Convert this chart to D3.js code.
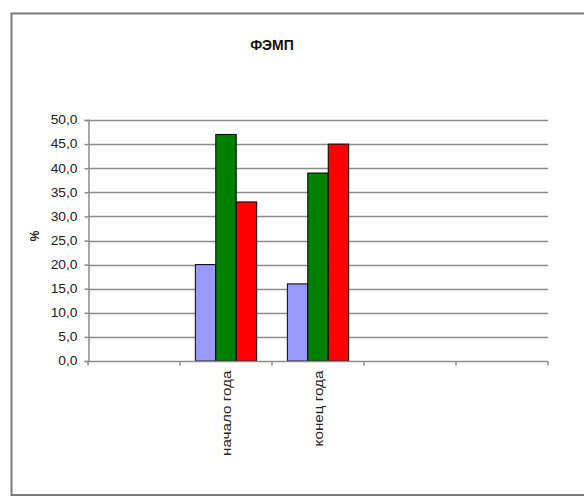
<!DOCTYPE html>
<html><head><meta charset="utf-8">
<script src="https://cdn.jsdelivr.net/npm/d3@7"></script>
<style>body{margin:0;background:#fff}svg{display:block}text{font-family:"Liberation Sans",Arial,sans-serif}</style>
</head><body><svg id="c" width="584" height="496"></svg>
<script>
const categories = ["", "начало года", "конец года", "", ""];
const seriesNames = ["s1", "s2", "s3"];
const series1 = [null, 20, 16, null, null];
const series2 = [null, 47, 39, null, null];
const series3 = [null, 33, 45, null, null];
const colors = ["#9999FF", "#008000", "#FF0000"];
const yTicks = [0, 5, 10, 15, 20, 25, 30, 35, 40, 45, 50];
const title = "ФЭМП";
const yLabel = "%";

const svg = d3.select("#c");
svg.append("rect").attr("x", 11.5).attr("y", 13.5).attr("width", 600).attr("height", 481.5)
  .attr("fill", "#fff").attr("stroke", "#7a7a7a").attr("stroke-width", 2);

const m = {l: 88, r: 548, t: 120, b: 361};
const x = d3.scaleBand().domain(d3.range(categories.length)).range([m.l, m.r]).paddingInner(0).paddingOuter(0);
const y = d3.scaleLinear().domain([0, 50]).range([m.b, m.t]);
const bw = x.bandwidth() / 4.5;
const x1 = d3.scaleBand().domain(seriesNames).range([0, bw * 3]);

// gridlines
svg.append("g").selectAll("line").data(yTicks.filter(d => d > 0)).join("line")
  .attr("x1", m.l).attr("x2", m.r).attr("y1", d => Math.round(y(d)) + 0.5).attr("y2", d => Math.round(y(d)) + 0.5)
  .attr("stroke", "#8c8c8c").attr("stroke-width", 1.5);

// y axis
const ya = d3.axisLeft(y).tickValues(yTicks).tickSize(4).tickFormat(d => d3.format(".1f")(d).replace(".", ","));
const yg = svg.append("g").attr("transform", `translate(${m.l + 0.5},0)`).call(ya);
yg.select(".domain").attr("stroke", "#8c8c8c").attr("stroke-width", 1.5);
yg.selectAll(".tick line").attr("stroke", "#8c8c8c").attr("stroke-width", 1.5);
yg.selectAll(".tick text").attr("font-size", 12).attr("fill", "#222").attr("x", null)
  .attr("transform", "translate(-11,0) scale(1.15,1)");

// bars
const data = [series1, series2, series3];
const groups = svg.append("g");
data.forEach((s, si) => {
  groups.append("g").selectAll("rect").data(s.map((v, i) => ({v, i})).filter(d => d.v != null)).join("rect")
    .attr("x", d => x(d.i) + bw * 0.75 + x1(seriesNames[si]))
    .attr("y", d => y(d.v))
    .attr("width", x1.bandwidth())
    .attr("height", d => y(0) - y(d.v))
    .attr("fill", colors[si]).attr("stroke", "#000").attr("stroke-width", 1);
});

// x axis
const xg = svg.append("g").attr("transform", `translate(0,${m.b + 0.5})`);
xg.append("line").attr("x1", m.l).attr("x2", m.r).attr("stroke", "#8c8c8c").attr("stroke-width", 1.5);
xg.selectAll("line.t").data(d3.range(categories.length + 1)).join("line").attr("class", "t")
  .attr("x1", i => i < categories.length ? x(i) : m.r).attr("x2", i => i < categories.length ? x(i) : m.r)
  .attr("y1", 0).attr("y2", 4).attr("stroke", "#8c8c8c").attr("stroke-width", 1.5);
xg.selectAll("text").data(categories).join("text")
  .attr("transform", (d, i) => `translate(${x(i) + x.bandwidth() / 2 + 5},${9}) rotate(-90) scale(1.22,1.05)`)
  .attr("text-anchor", "end").attr("font-size", 12.5).attr("fill", "#222").text(d => d);

// title
svg.append("text").attr("x", 272).attr("y", 50).attr("text-anchor", "middle")
  .attr("font-size", 14).attr("font-weight", "bold").attr("fill", "#111").text(title);
// y label
svg.append("text").attr("transform", "translate(39,236) rotate(-90)").attr("text-anchor", "middle")
  .attr("font-size", 12).attr("font-weight", "bold").attr("fill", "#222").text(yLabel);
</script></body></html>
